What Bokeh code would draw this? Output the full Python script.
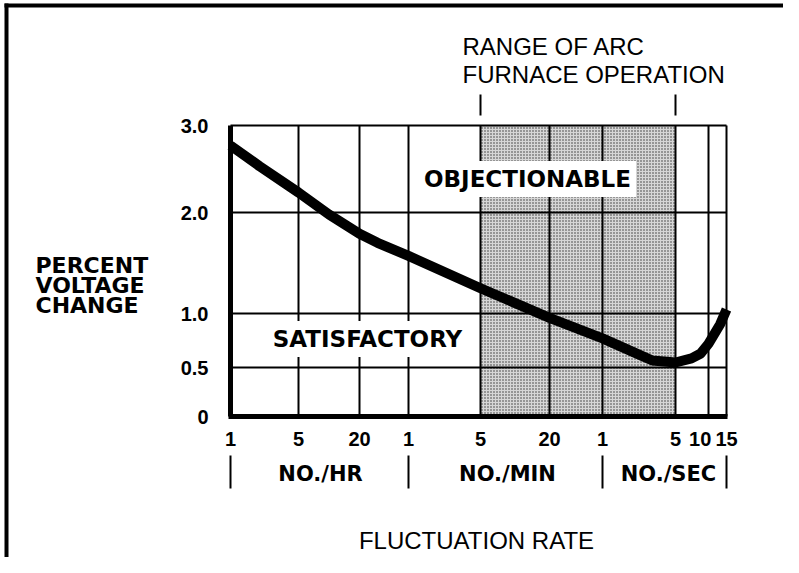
import numpy as np
from bokeh.plotting import figure
from bokeh.models import Range1d, FixedTicker, LinearAxis, Label
from bokeh.embed import file_html
from bokeh.resources import INLINE

# ---------------- data ----------------
# fluctuation rate, expressed in fluctuations per hour
x_tick_rates = [1, 5, 20, 60, 300, 1200, 3600, 18000, 36000, 54000]
x_tick_labels = ["1", "5", "20", "1", "5", "20", "1", "5",
                 "10\u00a0\u00a0\u00a0", "15"]
y_tick_values = [0, 0.5, 1.0, 2.0, 3.0]
y_tick_labels = ["0", "0.5", "1.0", "2.0", "3.0"]

# borderline curve (rate per hour, percent voltage change)
curve_rate = [1, 2, 5, 10, 20, 30, 60, 300, 1200, 3600, 7200, 10800, 18000,
              25200, 30600, 36000, 46800, 54000]
curve_pct = [2.77, 2.53, 2.23, 1.98, 1.79, 1.70, 1.57, 1.25, 0.96, 0.77, 0.64,
             0.565, 0.546, 0.585, 0.63, 0.72, 0.90, 1.04]

furnace_range = [300, 18000]            # 5/min .. 5/sec
unit_bounds = [1, 60, 3600, 54000]       # group separators
unit_names = ["NO./HR", "NO./MIN", "NO./SEC"]

# ---------------- axis layout (irregular scales) ----------------
X_POS = [0, 68, 129, 178, 250, 319, 372, 445, 478, 496]
Y_POS = [0, 49, 103, 204, 291]
XMAX, YMAX = X_POS[-1], Y_POS[-1]


def fx(rate):
    return np.interp(np.log10(rate), np.log10(x_tick_rates), X_POS)


def fy(pct):
    return np.interp(pct, y_tick_values, Y_POS)


NUM = "Liberation Sans"
WORD = "DejaVu Sans"

p = figure(width=783, height=557, output_backend="svg", toolbar_location=None,
           x_range=Range1d(-230, 553), y_range=Range1d(-141, 416),
           x_axis_location=None, y_axis_location=None, min_border=0)
p.background_fill_color = "white"
p.border_fill_color = "white"
p.outline_line_color = None
for g in p.grid:
    g.visible = False

# page frame (left and top black rules)
p.quad(left=-226, right=-222, bottom=-141, top=413, fill_color="black", line_color=None)
p.quad(left=-226, right=553, bottom=409, top=413, fill_color="black", line_color=None)

# shaded region of arc furnace operation
p.quad(left=fx(furnace_range[0]), right=fx(furnace_range[1]),
       bottom=fy(0), top=fy(3.0), fill_color="#d6d6d6", line_color=None,
       hatch_pattern="dot", hatch_color="#333333", hatch_scale=3,
       hatch_weight=1, level="image")

# grid lines (including top/right border of the chart box)
gx = [float(v) for v in X_POS[1:]]
gy = [float(v) for v in Y_POS[1:]]
p.segment(x0=gx, y0=[0] * len(gx), x1=gx, y1=[YMAX] * len(gx),
          line_color="black", line_width=2, level="underlay")
p.segment(x0=[0] * len(gy), y0=gy, x1=[XMAX] * len(gy), y1=gy,
          line_color="black", line_width=2, level="underlay")

# bottom axis
xa = LinearAxis(fixed_location=0, bounds=(-2.5, XMAX + 1),
                ticker=FixedTicker(ticks=[float(v) for v in X_POS]),
                major_label_overrides={float(pos): lab for pos, lab in zip(X_POS, x_tick_labels)},
                axis_line_width=5, axis_line_color="black",
                major_tick_in=0, major_tick_out=0, major_tick_line_color=None,
                minor_tick_line_color=None, major_label_standoff=11,
                major_label_text_font=NUM, major_label_text_font_style="bold",
                major_label_text_font_size="20px", major_label_text_color="black")
p.add_layout(xa, "below")

# left axis
ya = LinearAxis(fixed_location=0, bounds=(0, YMAX),
                ticker=FixedTicker(ticks=[float(v) for v in Y_POS]),
                major_label_overrides={float(pos): lab for pos, lab in zip(Y_POS, y_tick_labels)},
                axis_line_width=5, axis_line_color="black",
                major_tick_in=0, major_tick_out=0, major_tick_line_color=None,
                minor_tick_line_color=None, major_label_standoff=22,
                major_label_text_font=NUM, major_label_text_font_style="bold",
                major_label_text_font_size="20px", major_label_text_color="black")
p.add_layout(ya, "left")

# group separators below the rate labels
sep_pos = [float(fx(b)) for b in unit_bounds]
sep = LinearAxis(fixed_location=-39, ticker=FixedTicker(ticks=sep_pos),
                 major_label_overrides={v: "" for v in sep_pos},
                 axis_line_color=None, minor_tick_line_color=None,
                 major_tick_line_color="black", major_tick_line_width=2,
                 major_tick_in=0, major_tick_out=33)
p.add_layout(sep, "below")

# markers of arc furnace operating range
fr_pos = [float(fx(r)) for r in furnace_range]
top = LinearAxis(fixed_location=301, ticker=FixedTicker(ticks=fr_pos),
                 major_label_overrides={v: "" for v in fr_pos},
                 axis_line_color=None, minor_tick_line_color=None,
                 major_tick_line_color="black", major_tick_line_width=2,
                 major_tick_in=0, major_tick_out=21)
p.add_layout(top, "above")

# borderline curve
p.line(fx(curve_rate), fy(curve_pct), line_width=10, line_color="black",
       line_join="round", line_cap="butt")

# region labels
p.add_layout(Label(x=297, y=237.5, text="OBJECTIONABLE", text_align="center",
                   text_baseline="middle", text_font=WORD, text_font_style="bold",
                   text_font_size="23px", text_color="black",
                   background_fill_color="white", padding=5))
p.add_layout(Label(x=137, y=77.5, text="SATISFACTORY", text_align="center",
                   text_baseline="middle", text_font=WORD, text_font_style="bold",
                   text_font_size="23px", text_color="black",
                   background_fill_color="white", padding=5))

# y title
for i, t in enumerate(["PERCENT", "VOLTAGE", "CHANGE"]):
    p.add_layout(Label(x=-195, y=151.5 - 20 * i, text=t, text_align="left",
                       text_baseline="middle", text_font=WORD,
                       text_font_style="bold", text_font_size="22px",
                       text_color="black"))

# top annotation
for i, t in enumerate(["RANGE OF ARC", "FURNACE OPERATION"]):
    p.add_layout(Label(x=232, y=370 - 28 * i, text=t, text_align="left",
                       text_baseline="middle", text_font="Liberation Sans",
                       text_font_size="24px", text_color="black"))

# unit group names
for name, cx in zip(unit_names, [90, 277, 438]):
    p.add_layout(Label(x=cx, y=-57, text=name, text_align="center",
                       text_baseline="middle", text_font=WORD,
                       text_font_style="bold", text_font_size="21px",
                       text_color="black"))

# x title
p.add_layout(Label(x=246, y=-124, text="FLUCTUATION RATE", text_align="center",
                   text_baseline="middle", text_font="Liberation Sans",
                   text_font_size="24px", text_color="black"))

open("out.html", "w").write(file_html(p, INLINE))
